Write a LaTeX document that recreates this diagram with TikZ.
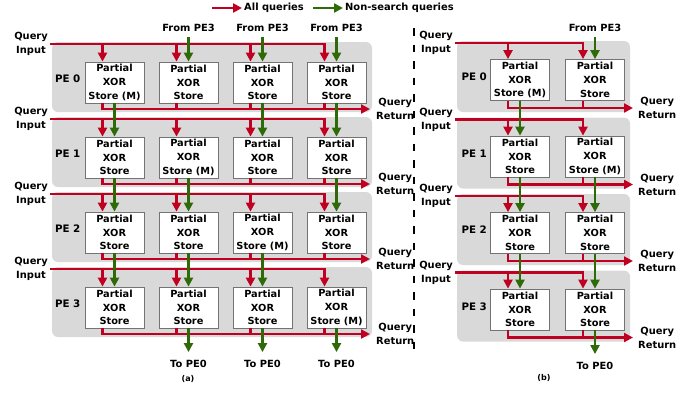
\documentclass[tikz,border=0pt]{standalone}
\usepackage{fontspec}
\setmainfont{DejaVu Sans}
\usetikzlibrary{arrows.meta,positioning}
\definecolor{qred}{RGB}{192,0,32}
\definecolor{qgreen}{RGB}{46,106,8}
\definecolor{pegray}{RGB}{217,217,217}
\begin{document}
\begin{tikzpicture}[x=1pt,y=-1pt,
	store/.style={draw=black!55,fill=white,line width=0.8pt,minimum width=59pt,minimum height=41pt,inner sep=0pt,align=center,font=\bfseries\fontsize{9.8}{13.8}\selectfont},
	lbl/.style={align=center,inner sep=2pt,font=\bfseries\fontsize{9.9}{14}\selectfont},
	pe/.style={inner sep=1pt,font=\bfseries\fontsize{10.3}{11}\selectfont},
	subcap/.style={inner sep=1pt,font=\bfseries\fontsize{8}{9}\selectfont},
	panel/.style={fill=pegray,rounded corners=6pt},
	redline/.style={draw=qred,line width=2.7pt},
	redarr/.style={redline,-{Triangle[length=9pt,width=9pt]}},
	greenarr/.style={draw=qgreen,line width=2.7pt,-{Triangle[length=9pt,width=9pt]}}]
				\useasboundingbox (0,0) rectangle (699,392);

				% legend
				\coordinate (lgr) at (212,8);
				\node[lbl,anchor=west] (lgall) at (242,8) {All queries};
				\draw[redarr] (lgr) -- (lgall);
				\coordinate (lgg) at (313,8);
				\node[lbl,anchor=west] (lgns) at (343,8) {Non-search queries};
				\draw[greenarr] (lgg) -- (lgns);

				% (a) four PEs with four stores
				\foreach \k in {0,...,3}{
					\fill[panel] (52,42+75*\k) rectangle (372,112+75*\k);
					\foreach \c in {0,...,3}{
						\ifnum\c=\k \def\stname{Store (M)}\else\def\stname{Store}\fi
						\node[store] (a\k\c) at (114.5+74*\c,82.5+75*\k) {Partial\\XOR\\\stname};
						\path ([xshift=-12pt]a\k\c.north) coordinate (ra\k\c) ([xshift=-12pt]a\k\c.south) coordinate (sa\k\c);
					}
					\node[pe,left=3pt of a\k0,yshift=4pt] (pea\k) {PE \k};
					\coordinate (ain\k) at (50,44+75*\k);
					\node[lbl,left=0pt of ain\k] (qia\k) {Query\\Input};
					\draw[redarr] (qia\k.east) -| (ra\k3);
					\foreach \c in {0,1,2} \draw[redarr] (ain\k -| ra\k\c) -- (ra\k\c);
					\coordinate (aret\k) at (370,109+75*\k);
					\node[lbl,right=4pt of aret\k] (qra\k) {Query\\Return};
					\draw[redarr] (sa\k0) |- (aret\k);
					\foreach \c in {1,2,3} \draw[redline] (sa\k\c) -- (sa\k\c |- aret\k);
				}
				\foreach \k/\n in {0/1,1/2,2/3}
					\foreach \c in {0,...,3}{\ifnum\c=\n\else\draw[greenarr] (a\k\c) -- (a\n\c);\fi}
				\foreach \c in {1,2,3}{
					\node[lbl] (fa\c) at (114.5+74*\c,28) {From PE3};
					\draw[greenarr,shorten <=3pt] (fa\c) -- (a0\c);
					\node[lbl] (ta\c) at (114.5+74*\c,364) {To PE0};
					\draw[greenarr,shorten >=6pt] (a3\c) -- (ta\c);
				}
				\node[subcap] (capa) at (188,379) {(a)};

				\draw[line width=1.6pt,dash pattern=on 7.5pt off 9pt] (414,28) -- (414,356);

				% (b) four PEs with two stores
				\foreach \k in {0,...,3}{
					\fill[panel] (457,41+76.5*\k) rectangle (630,112+76.5*\k);
					\foreach \c in {0,1}{
						\ifnum\c=\k \def\stname{Store (M)}\else\def\stname{Store}\fi
						\node[store] (b\k\c) at (520+75*\c,80+76.5*\k) {Partial\\XOR\\\stname};
						\path ([xshift=-12pt]b\k\c.north) coordinate (rb\k\c) ([xshift=-12pt]b\k\c.south) coordinate (sb\k\c);
					}
					\node[pe,left=2pt of b\k0,yshift=3pt] (peb\k) {PE \k};
					\coordinate (bin\k) at (455,43+76.5*\k);
					\node[lbl,left=0pt of bin\k] (qib\k) {Query\\Input};
					\draw[redarr] (qib\k.east) -| (rb\k1);
					\draw[redarr] (bin\k -| rb\k0) -- (rb\k0);
					\coordinate (bret\k) at (633,108+76.5*\k);
					\node[lbl,right=3pt of bret\k] (qrb\k) {Query\\Return};
					\draw[redarr] (sb\k0) |- (bret\k);
					\draw[redline] (sb\k1) -- (sb\k1 |- bret\k);
				}
				\foreach \k/\n in {0/1,1/2,2/3}
					\foreach \c in {0,1}{\ifnum\c=\n\else\draw[greenarr] (b\k\c) -- (b\n\c);\fi}
				\node[lbl] (fb1) at (595,28) {From PE3};
				\draw[greenarr,shorten <=3pt] (fb1) -- (b01);
				\node[lbl] (tb1) at (595,366) {To PE0};
				\draw[greenarr,shorten >=6pt] (b31) -- (tb1);
				\node[subcap] (capb) at (544,378) {(b)};
			\end{tikzpicture}
\end{document}
